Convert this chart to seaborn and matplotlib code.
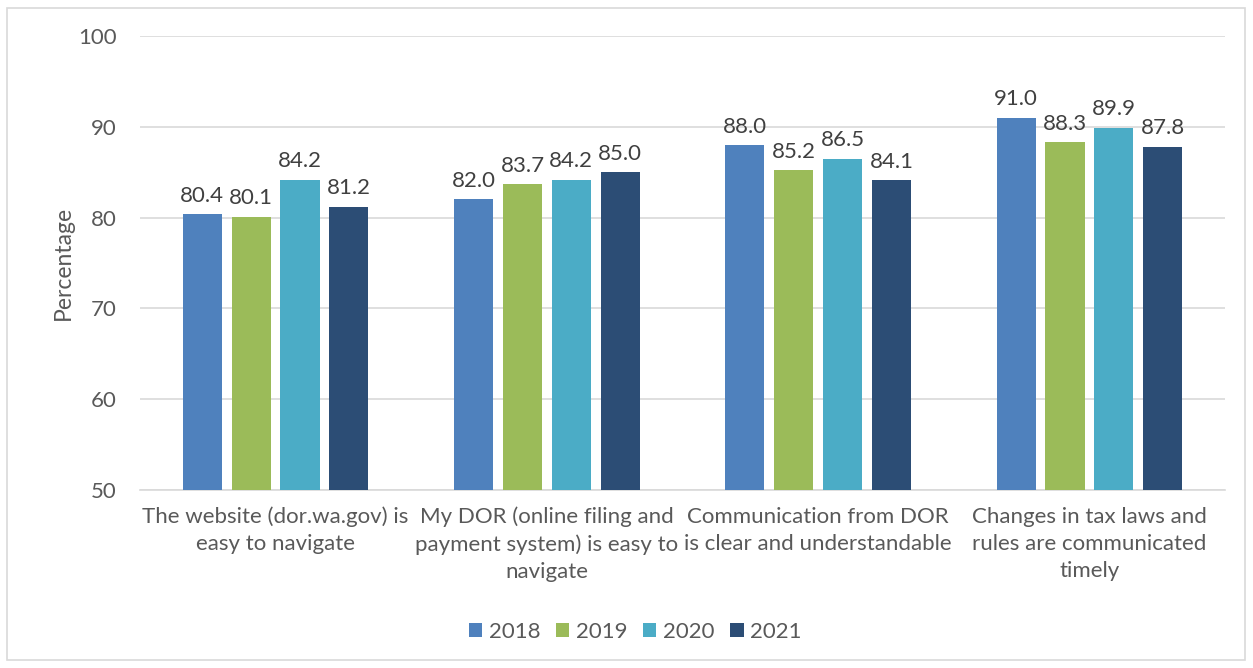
import pandas as pd
import matplotlib.pyplot as plt
import seaborn as sns
from matplotlib.patches import Rectangle

# datos
categorias = ["The website (dor.wa.gov) is\neasy to navigate",
              "My DOR (online filing and\npayment system) is easy to\nnavigate",
              "Communication from DOR\nis clear and understandable",
              "Changes in tax laws and\nrules are communicated\ntimely"]
anios = ["2018", "2019", "2020", "2021"]
v2018 = [80.4, 82.0, 88.0, 91.0]
v2019 = [80.1, 83.7, 85.2, 88.3]
v2020 = [84.2, 84.2, 86.5, 89.9]
v2021 = [81.2, 85.0, 84.1, 87.8]
colores = ["#4F81BD", "#9BBB59", "#4BACC6", "#2C4D75"]

filas = []
for anio, vals in zip(anios, [v2018, v2019, v2020, v2021]):
    for cat, v in zip(categorias, vals):
        filas.append({"cat": cat, "anio": anio, "pct": v})
df = pd.DataFrame(filas)

sns.set_style("white")
plt.rcParams['font.family'] = ['Lato', 'DejaVu Sans']
gris = "#595959"
tam = 16

fig = plt.figure(figsize=(12.53, 6.68), dpi=100)
ax = fig.add_axes([0.1117, 0.2665, 0.866, 0.6795])

sns.barplot(data=df, x="cat", y="pct", hue="anio", palette=colores,
            saturation=1, width=0.72, gap=0.2, ax=ax, zorder=3,
            edgecolor="none")

for c in ax.containers:
    ax.bar_label(c, fmt="%.1f", padding=6, fontsize=tam, color="#404040")

ax.set_ylim(50, 100)
ax.set_yticks([50, 60, 70, 80, 90, 100])
ax.yaxis.grid(True, color="#D9D9D9", linewidth=1.2, zorder=0)
ax.set_axisbelow(True)
for s in ["top", "right", "left"]:
    ax.spines[s].set_visible(False)
ax.spines["bottom"].set_color("#D9D9D9")
ax.spines["bottom"].set_linewidth(1.2)
ax.tick_params(axis="both", length=0, labelsize=tam, labelcolor=gris)
ax.tick_params(axis="y", pad=17)
ax.tick_params(axis="x", pad=12)
for t in ax.get_xticklabels():
    t.set_linespacing(1.45)
ax.set_xlabel("")
ax.set_ylabel("Percentage", fontsize=16.5, color=gris, labelpad=3)

ax.legend(loc="center", bbox_to_anchor=(0.507, 0.054), bbox_transform=fig.transFigure,
          ncol=4, frameon=False,
          fontsize=tam, handlelength=0.6, handleheight=0.6, columnspacing=0.7,
          handletextpad=0.3, labelcolor=gris)

fig.patches.append(Rectangle((7 / 1253, 8 / 668), 1238 / 1253, 652 / 668,
                             transform=fig.transFigure, fill=False,
                             edgecolor="#D9D9D9", linewidth=1.2))

fig.savefig("out.png", dpi=100)
